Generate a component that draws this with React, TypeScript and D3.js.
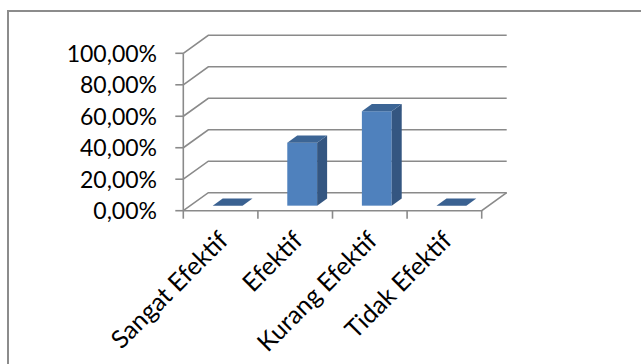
import React from "react";
import * as d3 from "d3";

const categories = ["Sangat Efektif", "Efektif", "Kurang Efektif", "Tidak Efektif"];
const values = [0, 0.4, 0.6, 0];
const yTicks = [0, 0.2, 0.4, 0.6, 0.8, 1.0];

const W = 641;
const H = 364;
const DX = 25;
const DY = -18;
const D0 = 0.28;
const D1 = 0.68;
const FONT = "Lato, 'Open Sans', sans-serif";
const GRID = "#8a8a8a";

export default function App() {
  const x = d3.scaleBand<string>().domain(categories).range([183.3, 481.7]).padding(0);
  const y = d3.scaleLinear().domain([0, 1]).range([210.7, 53.3]);
  const fmt = (v: number) => d3.format(".2f")(v * 100).replace(".", ",") + "%";
  const bw = x.bandwidth() * 0.4;

  const [x0, x1] = x.range();
  const bars = categories.map((c, i) => {
    const cx = x(c)! + x.bandwidth() / 2;
    const l = cx - bw / 2 + DX * D0;
    const r = cx + bw / 2 + DX * D0;
    const b = y(0) + DY * D0;
    const t = y(values[i]) + DY * D0;
    const ddx = DX * (D1 - D0);
    const ddy = DY * (D1 - D0);
    return { c, l, r, b, t, ddx, ddy, v: values[i] };
  });

  return (
    <div style={{ position: "fixed", left: 0, top: 0 }}>
      <svg width={W} height={H} style={{ display: "block", background: "#fff" }}>
        <path d={`M8,${H} L8,11 L${W},11`} fill="none" stroke="#8c8c8c" strokeWidth={2} />
        {yTicks.map((t) => (
          <g key={t}>
            <path
              d={`M${x0},${y(t)} L${x0 + DX},${y(t) + DY} L${x1 + DX},${y(t) + DY}`}
              fill="none"
              stroke={GRID}
              strokeWidth={1.6}
            />
            <line x1={x0 - 8} x2={x0} y1={y(t)} y2={y(t)} stroke={GRID} strokeWidth={1.6} />
            <text
              x={157}
              y={y(t)}
              dy="0.36em"
              textAnchor="end"
              fontFamily={FONT}
              fontSize={23}
              fill="#000"
            >
              {fmt(t)}
            </text>
          </g>
        ))}
        <line x1={x0} x2={x0} y1={y(1)} y2={y(0)} stroke={GRID} strokeWidth={1.6} />
        <path
          d={`M${x0},${y(0)} L${x1},${y(0)} L${x1 + DX},${y(0) + DY}`}
          fill="none"
          stroke={GRID}
          strokeWidth={1.6}
        />
        {[...categories.map((c) => x(c)!), x1].map((tx, i) => (
          <line key={i} x1={tx} x2={tx} y1={y(0)} y2={y(0) + 8} stroke={GRID} strokeWidth={1.6} />
        ))}
        {bars.map((b) =>
          b.v === 0 ? (
            <path
              key={b.c}
              d={`M${b.l},${b.b} L${b.r},${b.b} L${b.r + b.ddx},${b.b + b.ddy} L${b.l + b.ddx},${b.b + b.ddy} Z`}
              fill="#3a6191"
            />
          ) : (
            <g key={b.c}>
              <rect x={b.l} y={b.t} width={b.r - b.l} height={b.b - b.t} fill="#4f81bd" />
              <path
                d={`M${b.r},${b.t} L${b.r + b.ddx},${b.t + b.ddy} L${b.r + b.ddx},${b.b + b.ddy} L${b.r},${b.b} Z`}
                fill="#345681"
              />
              <path
                d={`M${b.l},${b.t} L${b.r},${b.t} L${b.r + b.ddx},${b.t + b.ddy} L${b.l + b.ddx},${b.t + b.ddy} Z`}
                fill="#3c6595"
              />
            </g>
          )
        )}
        {categories.map((c) => {
          const cx = x(c)! + x.bandwidth() / 2;
          return (
            <text
              key={c}
              transform={`translate(${cx + 9},${242}) rotate(-45)`}
              textAnchor="end"
              fontFamily={FONT}
              fontSize={25}
              fill="#000"
            >
              {c}
            </text>
          );
        })}
      </svg>
    </div>
  );
}
